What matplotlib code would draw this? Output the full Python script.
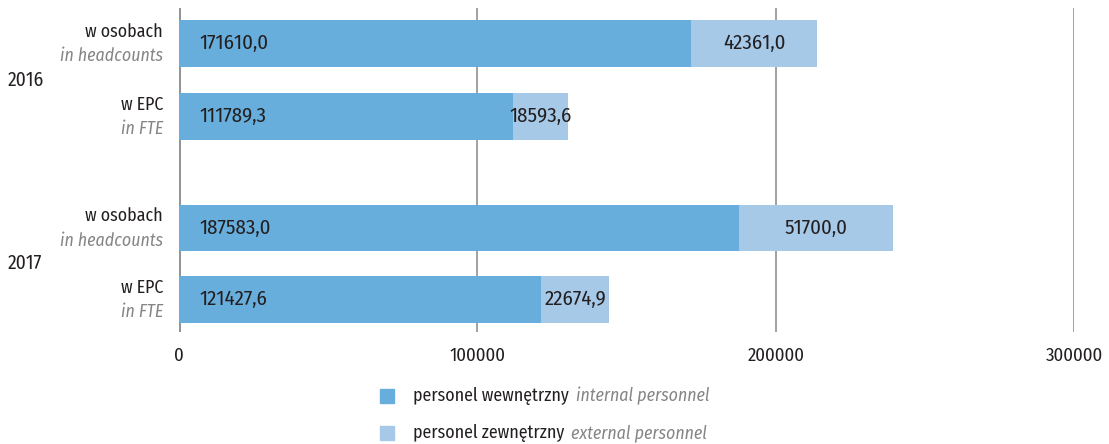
import matplotlib.pyplot as plt
from matplotlib.patches import Rectangle

plt.rcParams["font.family"] = ["Fira Sans Condensed", "DejaVu Sans"]

years = ["2016", "2017"]
row_pl = ["w osobach", "w EPC", "w osobach", "w EPC"]
row_en = ["in headcounts", "in FTE", "in headcounts", "in FTE"]
internal = [171610.0, 111789.3, 187583.0, 121427.6]
external = [42361.0, 18593.6, 51700.0, 22674.9]
ticks = [0, 100000, 200000, 300000]
legend_pl = ["personel wewnętrzny", "personel zewnętrzny"]
legend_en = ["internal personnel", "external personnel"]

C_INT = "#68aedc"
C_EXT = "#a6c9e8"
DARK = "#231f20"
GREY = "#858585"
FS_WORD = 12.8   # labels made of letters
FS_NUM = 15      # value labels on bars

ypos = [0, 1, 2.52, 3.49]


def fmt(v):
    return f"{v:.1f}".replace(".", ",")


fig = plt.figure(figsize=(11.09, 4.44), dpi=100)
ax = fig.add_axes([0.1614, 0.252, 0.8071, 0.73])

ax.barh(ypos, internal, height=0.64, color=C_INT, zorder=2)
ax.barh(ypos, external, left=internal, height=0.64, color=C_EXT, zorder=2)

for y, a, b in zip(ypos, internal, external):
    ax.text(7000, y, fmt(a), va="center", ha="left", fontsize=FS_NUM, color=DARK, zorder=3)
    ax.text(a + b / 2, y, fmt(b), va="center", ha="center", fontsize=FS_NUM, color=DARK, zorder=3)

ax.set_xlim(0, 300000)
ax.set_ylim(3.49 + 0.45, -0.48)
ax.set_xticks(ticks)
ax.set_xticklabels([str(t) for t in ticks], fontsize=13.5, color=DARK)
ax.set_yticks([])
ax.xaxis.grid(True, color="#9a9a9a", linewidth=1.3, zorder=0)
ax.tick_params(axis="x", length=0, pad=11)
for s in ax.spines.values():
    s.set_visible(False)
ax.axvline(0, color="#707070", linewidth=1.8, zorder=1)

# row labels: Polish on top, English italic grey below
tr = ax.get_yaxis_transform()
for y, pl, en in zip(ypos, row_pl, row_en):
    ax.text(-0.018, y - 0.16, pl, transform=tr, ha="right", va="center",
            fontsize=FS_WORD, color=DARK)
    ax.text(-0.018, y + 0.17, en, transform=tr, ha="right", va="center",
            fontsize=FS_WORD, color=GREY, style="italic")
for i, yr in enumerate(years):
    ymid = (ypos[2 * i] + ypos[2 * i + 1]) / 2
    ax.text(-0.191, ymid, yr, transform=tr, ha="left", va="center",
            fontsize=14, color=DARK)

# legend drawn by hand: coloured square, Polish label, italic English label
fig.canvas.draw()
r = fig.canvas.get_renderer()
W, H = fig.get_size_inches() * fig.dpi
for i, (pl, en, c) in enumerate(zip(legend_pl, legend_en, [C_INT, C_EXT])):
    yc = 1 - (396 + 37 * i) / H
    fig.add_artist(Rectangle((380 / W, yc - 7 / H), 14 / W, 14 / H,
                             transform=fig.transFigure, color=c))
    t = fig.text(413 / W, yc, pl, ha="left", va="center", fontsize=FS_WORD, color=DARK)
    bb = t.get_window_extent(renderer=r)
    fig.text((bb.x1 + 7) / W, yc, en, ha="left", va="center", fontsize=FS_WORD,
             color=GREY, style="italic")

fig.savefig("out.png", dpi=100)
